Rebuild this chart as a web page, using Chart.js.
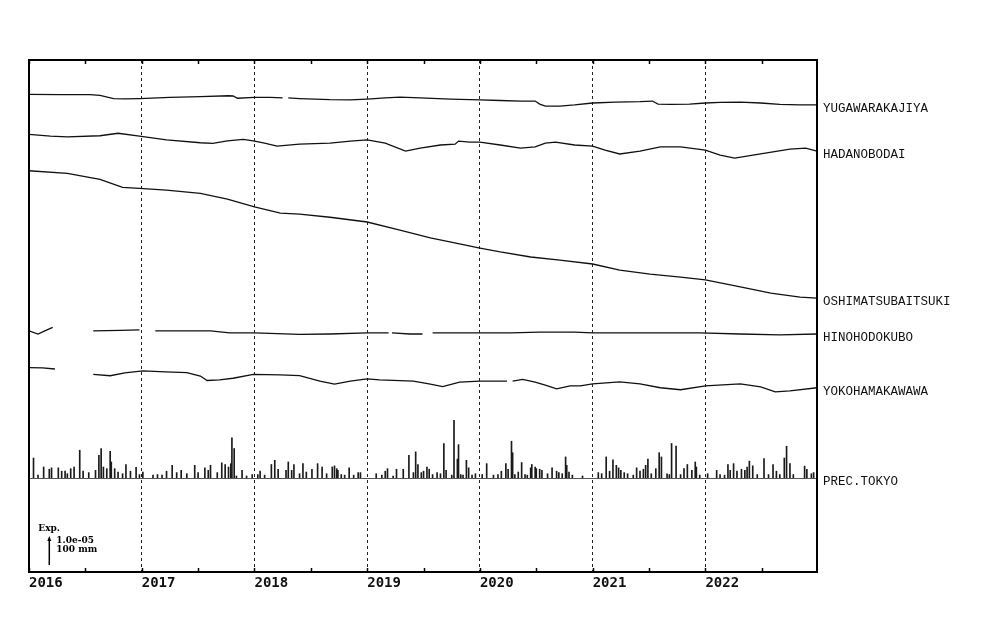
<!DOCTYPE html>
<html lang="en">

<head>
    <meta charset="UTF-8">
    <title>Strain records</title>
    <script src="https://cdn.jsdelivr.net/npm/chart.js"></script>
    <style>
        body { margin: 0; background: #fff; }
        #wrap { width: 1000px; height: 640px; }
    </style>
</head>

<body>
    <div id="wrap"><canvas id="myChart" width="1000" height="640"></canvas></div>
    <script>
        // station names (right side labels)
        const stations = ['YUGAWARAKAJIYA', 'HADANOBODAI', 'OSHIMATSUBAITSUKI', 'HINOHODOKUBO', 'YOKOHAMAKAWAWA'];
        // where each record is drawn (1e-6 strain above the bottom frame)
        const offsets = [170.6, 156.3, 143.3, 86.1, 73.0];

        // strain change from start, 1e-6 (null = missing data)
        const yugaT = [2016.00, 2016.28, 2016.54, 2016.63, 2016.75, 2016.85, 2016.98, 2017.25, 2017.52, 2017.77, 2017.81, 2017.85, 2018.00, 2018.14, 2018.25, 2018.27, 2018.30, 2018.40, 2018.67, 2018.85, 2019.00, 2019.16, 2019.29, 2019.47, 2019.74, 2020.00, 2020.18, 2020.36, 2020.49, 2020.53, 2020.58, 2020.71, 2020.84, 2021.00, 2021.20, 2021.42, 2021.53, 2021.58, 2021.69, 2021.86, 2022.00, 2022.13, 2022.31, 2022.49, 2022.66, 2022.84, 2022.99];
        const yugaV = [0, -0.1, -0.1, -0.4, -1.5, -1.6, -1.5, -1.1, -0.8, -0.5, -0.6, -1.4, -1.1, -1.1, -1.3, null, -1.3, -1.5, -1.9, -2.0, -1.7, -1.3, -1.0, -1.3, -1.7, -2.0, -2.2, -2.4, -2.4, -3.5, -4.2, -4.2, -3.8, -3.1, -2.8, -2.6, -2.4, -3.5, -3.6, -3.5, -3.1, -2.9, -2.8, -3.1, -3.6, -3.8, -3.8];

        const hadaT = [2016.00, 2016.19, 2016.34, 2016.63, 2016.79, 2016.98, 2017.22, 2017.52, 2017.63, 2017.76, 2017.90, 2017.99, 2018.09, 2018.20, 2018.40, 2018.67, 2018.85, 2019.00, 2019.16, 2019.34, 2019.47, 2019.65, 2019.78, 2019.81, 2019.91, 2020.00, 2020.18, 2020.36, 2020.49, 2020.58, 2020.67, 2020.84, 2021.00, 2021.11, 2021.24, 2021.42, 2021.60, 2021.78, 2022.00, 2022.13, 2022.26, 2022.49, 2022.75, 2022.89, 2022.99];
        const hadaV = [0, -0.6, -0.9, -0.5, 0.4, -0.6, -2.0, -3.0, -3.2, -2.3, -1.8, -2.3, -3.1, -4.2, -3.5, -3.1, -2.4, -2.0, -3.1, -6.0, -4.9, -3.8, -3.5, -2.4, -2.75, -2.75, -3.8, -4.9, -4.5, -3.1, -2.75, -3.8, -4.2, -5.6, -7.0, -6.0, -4.5, -4.5, -5.6, -7.4, -8.5, -7.0, -5.25, -4.9, -6.0];

        const oshiT = [2016.00, 2016.34, 2016.63, 2016.83, 2016.98, 2017.22, 2017.52, 2017.76, 2018.00, 2018.23, 2018.40, 2018.67, 2019.00, 2019.29, 2019.56, 2019.83, 2020.00, 2020.18, 2020.45, 2020.71, 2021.00, 2021.24, 2021.51, 2021.78, 2022.00, 2022.31, 2022.58, 2022.84, 2022.99];
        const oshiV = [0, -0.9, -3.1, -5.9, -6.3, -6.9, -8.1, -10.1, -12.9, -15.1, -15.5, -16.6, -18.3, -21.2, -24.0, -26.2, -27.6, -29.0, -30.8, -31.9, -33.3, -35.5, -36.9, -38.0, -39.0, -41.5, -43.7, -45.1, -45.5];

        const hinoT = [2016.00, 2016.08, 2016.14, 2016.21, 2016.30, 2016.57, 2016.81, 2016.98, 2017.04, 2017.12, 2017.61, 2017.78, 2018.00, 2018.40, 2018.67, 2019.00, 2019.19, 2019.20, 2019.22, 2019.38, 2019.49, 2019.54, 2019.58, 2020.00, 2020.27, 2020.53, 2020.84, 2021.00, 2021.42, 2021.95, 2022.31, 2022.66, 2022.99];
        const hinoV = [0, -1.1, 0, 1.25, null, 0, 0.2, 0.4, null, 0, 0, -0.7, -0.7, -1.2, -1.1, -0.7, -0.7, null, -0.7, -1.1, -1.1, null, -0.7, -0.7, -0.7, -0.4, -0.4, -0.7, -0.7, -0.7, -1.1, -1.4, -1.1];

        const yokoT = [2016.00, 2016.12, 2016.23, 2016.40, 2016.57, 2016.72, 2016.85, 2017.01, 2017.21, 2017.40, 2017.52, 2017.58, 2017.69, 2017.81, 2017.99, 2018.23, 2018.40, 2018.58, 2018.71, 2018.85, 2019.00, 2019.11, 2019.41, 2019.56, 2019.67, 2019.82, 2020.00, 2020.24, 2020.26, 2020.29, 2020.38, 2020.49, 2020.58, 2020.68, 2020.80, 2020.89, 2021.00, 2021.24, 2021.42, 2021.60, 2021.78, 2022.00, 2022.31, 2022.49, 2022.62, 2022.75, 2022.99];
        const yokoV = [0, -0.1, -0.5, null, -2.4, -2.9, -1.9, -1.2, -1.5, -1.8, -3.0, -4.6, -4.4, -3.8, -2.4, -2.6, -2.9, -4.8, -5.9, -4.8, -4.0, -4.4, -4.8, -5.9, -6.8, -5.2, -4.8, -4.8, null, -4.8, -4.2, -5.2, -6.3, -7.6, -6.5, -6.5, -5.8, -5.1, -5.8, -7.2, -7.9, -6.5, -5.8, -6.9, -8.7, -8.3, -7.2];

        // daily precipitation, Tokyo (mm)
        const precT = [2016.04, 2016.08, 2016.13, 2016.18, 2016.20, 2016.26, 2016.29, 2016.32, 2016.34, 2016.37, 2016.40, 2016.45, 2016.48, 2016.53, 2016.59, 2016.62, 2016.64, 2016.66, 2016.69, 2016.72, 2016.73, 2016.76, 2016.79, 2016.83, 2016.86, 2016.90, 2016.95, 2016.98,
            2017.01, 2017.10, 2017.14, 2017.18, 2017.22, 2017.27, 2017.31, 2017.35, 2017.40, 2017.47, 2017.50, 2017.56, 2017.59, 2017.61, 2017.67, 2017.71, 2017.74, 2017.77, 2017.79, 2017.80, 2017.82, 2017.84, 2017.89, 2017.93, 2017.98,
            2018.03, 2018.05, 2018.09, 2018.15, 2018.18, 2018.21, 2018.28, 2018.30, 2018.33, 2018.35, 2018.40, 2018.43, 2018.46, 2018.51, 2018.56, 2018.60, 2018.64, 2018.69, 2018.71, 2018.73, 2018.74, 2018.77, 2018.80, 2018.84, 2018.88, 2018.92, 2018.94,
            2019.08, 2019.13, 2019.16, 2019.18, 2019.23, 2019.26, 2019.32, 2019.37, 2019.41, 2019.43, 2019.45, 2019.48, 2019.50, 2019.53, 2019.55, 2019.58, 2019.62, 2019.65, 2019.68, 2019.70, 2019.75, 2019.77, 2019.80, 2019.81, 2019.83, 2019.85, 2019.88, 2019.90, 2019.93, 2019.96,
            2020.02, 2020.06, 2020.12, 2020.16, 2020.19, 2020.23, 2020.25, 2020.28, 2020.29, 2020.31, 2020.34, 2020.37, 2020.40, 2020.42, 2020.45, 2020.46, 2020.49, 2020.50, 2020.53, 2020.55, 2020.60, 2020.64, 2020.68, 2020.70, 2020.73, 2020.76, 2020.77, 2020.79, 2020.82, 2020.91,
            2021.05, 2021.08, 2021.12, 2021.15, 2021.18, 2021.21, 2021.23, 2021.25, 2021.28, 2021.31, 2021.36, 2021.39, 2021.42, 2021.45, 2021.47, 2021.49, 2021.52, 2021.56, 2021.59, 2021.61, 2021.66, 2021.68, 2021.70, 2021.74, 2021.78, 2021.81, 2021.84, 2021.88, 2021.91, 2021.92, 2021.95,
            2022.02, 2022.10, 2022.13, 2022.17, 2022.20, 2022.22, 2022.25, 2022.28, 2022.32, 2022.35, 2022.37, 2022.39, 2022.42, 2022.46, 2022.52, 2022.56, 2022.60, 2022.63, 2022.66, 2022.70, 2022.72, 2022.75, 2022.78, 2022.88, 2022.90, 2022.94, 2022.96];
        const precMm = [71, 10, 39, 31, 36, 36, 24, 24, 15, 33, 39, 99, 24, 19, 27, 81, 105, 39, 33, 95, 57, 33, 21, 15, 48, 24, 38, 12,
            21, 10, 12, 10, 24, 45, 19, 27, 15, 45, 19, 36, 27, 45, 19, 54, 48, 39, 51, 143, 105, 7, 27, 7, 12,
            12, 24, 10, 48, 63, 31, 27, 57, 27, 48, 15, 51, 21, 31, 51, 39, 15, 39, 43, 33, 27, 12, 10, 36, 10, 19, 19,
            15, 10, 24, 33, 7, 31, 31, 81, 19, 93, 48, 19, 24, 39, 31, 12, 19, 15, 123, 27, 10, 206, 67, 119, 12, 10, 63, 36, 10, 15,
            12, 51, 10, 12, 24, 51, 31, 131, 90, 12, 21, 55, 12, 10, 36, 48, 39, 33, 31, 27, 15, 36, 24, 19, 15, 75, 45, 21, 10, 7,
            19, 15, 75, 24, 65, 45, 36, 27, 19, 15, 10, 36, 24, 31, 45, 67, 15, 33, 90, 75, 15, 12, 123, 114, 12, 33, 48, 27, 57, 39, 10,
            15, 27, 12, 10, 48, 27, 51, 24, 31, 27, 39, 60, 43, 12, 69, 12, 48, 24, 12, 71, 113, 51, 12, 42, 31, 15, 19];

        const yearTicks = [2016, 2017, 2018, 2019, 2020, 2021, 2022];
        const halfTicks = [2016.5, 2017.5, 2018.5, 2019.5, 2020.5, 2021.5, 2022.5];
        const scaleStrain = 10;   // 1.0e-05 = 10 x 1e-6
        const scaleLabel = ['1.0e-05', '100 mm'];

        function series(t, v, off) {
            return t.map((x, i) => ({ x: x, y: v[i] === null ? null : off + v[i] }));
        }

        const lineSets = [[yugaT, yugaV], [hadaT, hadaV], [oshiT, oshiV], [hinoT, hinoV], [yokoT, yokoV]]
            .map((s, i) => ({
                type: 'line',
                label: stations[i],
                data: series(s[0], s[1], offsets[i]),
                yAxisID: 'y',
                borderColor: '#111',
                borderWidth: 1.3,
                pointRadius: 0,
                tension: 0,
                spanGaps: false,
            }));

        const precSet = {
            type: 'bar',
            label: 'PREC.TOKYO',
            data: precT.map((x, i) => ({ x: x, y: precMm[i] })),
            yAxisID: 'yp',
            backgroundColor: '#1a1a1a',
            barThickness: 1,
            grouped: false,
        };

        const frame = {
            id: 'frame',
            afterDraw(chart) {
                const ctx = chart.ctx;
                const a = chart.chartArea;
                const xs = chart.scales.x, ys = chart.scales.y, yp = chart.scales.yp;
                ctx.save();
                // precipitation base line
                const py0 = Math.round(yp.getPixelForValue(0)) + 0.5;
                ctx.strokeStyle = '#555';
                ctx.lineWidth = 1;
                ctx.beginPath();
                ctx.moveTo(a.left, py0); ctx.lineTo(a.right, py0);
                ctx.stroke();
                // half-year tick marks
                ctx.strokeStyle = '#000';
                ctx.lineWidth = 1.5;
                halfTicks.concat(yearTicks).forEach(t => {
                    const px = Math.round(xs.getPixelForValue(t)) + 0.5;
                    ctx.beginPath();
                    ctx.moveTo(px, a.top); ctx.lineTo(px, a.top + 4);
                    ctx.moveTo(px, a.bottom); ctx.lineTo(px, a.bottom - 4);
                    ctx.stroke();
                });
                // frame
                ctx.lineWidth = 2;
                ctx.strokeRect(a.left, a.top, a.right - a.left, a.bottom - a.top);
                ctx.fillRect(a.left - 1, a.top, 2, a.bottom - a.top);

                // station labels
                ctx.fillStyle = '#111';
                ctx.font = '12.5px "Liberation Mono", monospace';
                ctx.textBaseline = 'middle';
                ctx.textAlign = 'left';
                chart.data.datasets.forEach((ds, i) => {
                    const meta = chart.getDatasetMeta(i);
                    let py;
                    if (ds.type === 'bar') {
                        py = yp.getPixelForValue(0);
                    } else {
                        py = meta.data[meta.data.length - 1].y;
                    }
                    ctx.fillText(ds.label, a.right + 6, py + 4);
                });

                // scale bar
                const bx = xs.getPixelForValue(2016.18);
                const b0 = ys.getPixelForValue(2.5);
                const b1 = ys.getPixelForValue(2.5 + scaleStrain);
                ctx.strokeStyle = '#000';
                ctx.lineWidth = 1.5;
                ctx.beginPath();
                ctx.moveTo(bx, b0); ctx.lineTo(bx, b1 + 2);
                ctx.stroke();
                ctx.fillStyle = '#000';
                ctx.beginPath();
                ctx.moveTo(bx, b1 - 1); ctx.lineTo(bx - 2, b1 + 4); ctx.lineTo(bx + 2, b1 + 4);
                ctx.closePath();
                ctx.fill();
                ctx.font = 'bold 9px "DejaVu Serif", serif';
                ctx.fillText('Exp.', bx - 11, b1 - 8);
                ctx.fillText(scaleLabel[0], bx + 7, b1 + 4);
                ctx.fillText(scaleLabel[1], bx + 7, b1 + 13);
                ctx.restore();
            }
        };

        new Chart(document.getElementById('myChart'), {
            data: { datasets: lineSets.concat([precSet]) },
            options: {
                responsive: false,
                animation: false,
                layout: { padding: { left: 29, right: 183, top: 60, bottom: 38 } },
                plugins: { legend: { display: false }, tooltip: { enabled: false } },
                scales: {
                    x: {
                        type: 'linear',
                        offset: false,
                        min: 2016,
                        max: 2022.99,
                        afterFit: s => { s.height = 30; },
                        afterBuildTicks: s => { s.ticks = yearTicks.map(v => ({ value: v })); },
                        border: { display: false, dash: [3, 3] },
                        grid: {
                            offset: false,
                            color: '#222',
                            lineWidth: 1,
                            drawTicks: false,
                        },
                        ticks: {
                            align: 'start',
                            padding: 3,
                            color: '#111',
                            maxRotation: 0,
                            autoSkip: false,
                            font: { family: '"DejaVu Sans Mono", monospace', size: 14, weight: 'bold' },
                            callback: v => String(v),
                        },
                    },
                    y: { display: false, min: 0, max: 182.86 },
                    yp: { display: false, min: -336, max: 1492.6 },
                },
            },
            plugins: [frame]
        });
    </script>
</body>

</html>
